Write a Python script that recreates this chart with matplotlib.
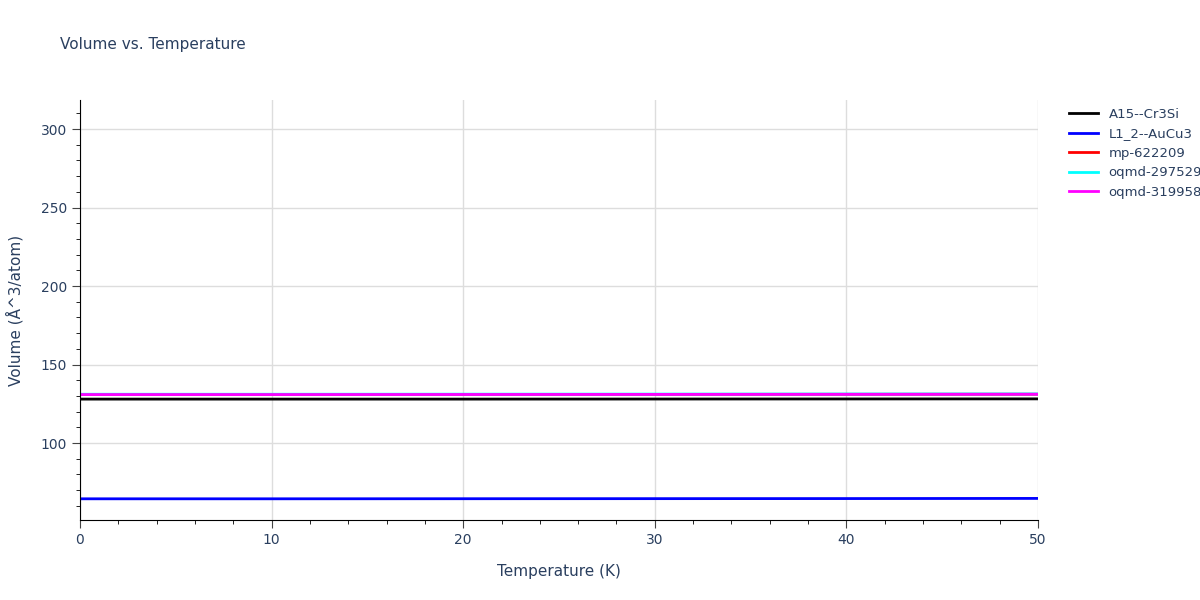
import matplotlib
matplotlib.use("Agg")
import matplotlib.pyplot as plt
from matplotlib.ticker import MultipleLocator

temps = [0, 10, 20, 30, 40, 50]
names = ["A15--Cr3Si", "L1_2--AuCu3", "mp-622209", "oqmd-297529", "oqmd-319958"]
colors = ["black", "blue", "red", "cyan", "magenta"]
vols = [
    [128.0, 128.0, 128.0, 128.05, 128.1, 128.15],
    [64.5, 64.5, 64.55, 64.6, 64.65, 64.75],
    [130.9, 130.9, 130.95, 131.0, 131.05, 131.1],
    [131.1, 131.1, 131.15, 131.2, 131.25, 131.3],
    [130.9, 130.9, 130.95, 131.0, 131.05, 131.1],
]

fig = plt.figure(figsize=(12, 6), dpi=100)
ax = fig.add_axes([80/1200, 80/600, 958/1200, 420/600])
for n, c, v in zip(names, colors, vols):
    ax.plot(temps, v, color=c, lw=2, label=n)
ax.set_xlim(0, 50)
ax.set_ylim(51, 318.5)
ax.set_yticks([100, 150, 200, 250, 300])
ax.set_xticks([0, 10, 20, 30, 40, 50])
ax.xaxis.set_minor_locator(MultipleLocator(2))
ax.yaxis.set_minor_locator(MultipleLocator(10))
ax.grid(True, color="#dddddd", lw=1)
for s in ["top", "right"]:
    ax.spines[s].set_visible(False)
ax.tick_params(colors="#444444", labelcolor="#2a3f5f", labelsize=10, length=6)
ax.tick_params(which="minor", length=3)
ax.set_xlabel("Temperature (K)", color="#2a3f5f", fontsize=11, labelpad=12)
ax.set_ylabel("Volume (Å^3/atom)", color="#2a3f5f", fontsize=11, labelpad=12)
fig.text(60/1200, 1-45/600, "Volume vs. Temperature", color="#2a3f5f", fontsize=11, va="center")
ax.legend(loc="upper left", bbox_to_anchor=(1.02, 1.01), frameon=False, fontsize=9.5,
          labelcolor="#2a3f5f", handlelength=2.2)
fig.savefig("out.png")
